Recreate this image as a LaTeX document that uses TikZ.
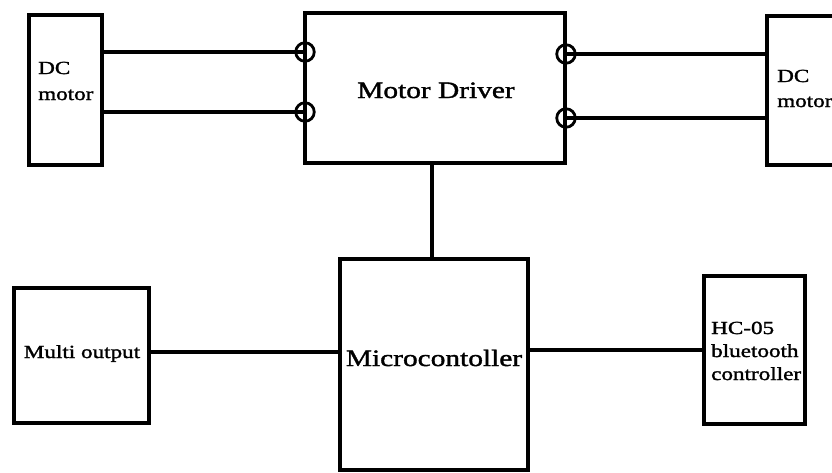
\documentclass[tikz,border=0pt]{standalone}
\usepackage{fontspec}
\setmainfont{Liberation Serif}[FakeStretch=1.25,FakeBold=1.5]
\begin{document}
\begin{tikzpicture}[x=1pt,y=-1pt,
  box/.style={draw=black,line width=4pt,rectangle},
  wire/.style={draw=black,line width=3.2pt},
  port/.style={draw=black,line width=2.8pt,circle,minimum size=18.5pt,inner sep=0pt},
  big/.style={font=\fontsize{23.5}{26}\selectfont},
  small/.style={font=\fontsize{18.5}{23}\selectfont,inner sep=0pt}]
\clip (0,0) rectangle (832,472);
\fill[white] (0,0) rectangle (832,472);
% boxes
\draw[box] (29,15) rectangle (102,165);
\draw[box] (305,13) rectangle (565,163);
\draw[box] (767,16) rectangle (860,165);
\draw[box] (340,259) rectangle (528,470);
\draw[box] (14,288) rectangle (149,423);
\draw[box] (704,276) rectangle (805,424);
% named anchor coordinates
\coordinate (dcLa) at (102,52);
\coordinate (dcLb) at (102,112);
\coordinate (mdLa) at (305,52);
\coordinate (mdLb) at (305,112);
\coordinate (mdRa) at (566,54);
\coordinate (mdRb) at (566,118);
\coordinate (dcRa) at (767,54);
\coordinate (dcRb) at (767,118);
\coordinate (mdB) at (432,163);
\coordinate (mcT) at (432,259);
\coordinate (mcL) at (340,352);
\coordinate (mcR) at (528,350);
\coordinate (moR) at (149,352);
\coordinate (hcL) at (704,350);
% ports
\node[port] (p1) at (mdLa) {};
\node[port] (p2) at (mdLb) {};
\node[port] (p3) at (mdRa) {};
\node[port] (p4) at (mdRb) {};
% wires
\draw[wire] (dcLa) -- (p1.center);
\draw[wire] (dcLb) -- (p2.center);
\draw[wire] (p3.center) -- (dcRa);
\draw[wire] (p4.center) -- (dcRb);
\draw[wire] (mdB) -- (mcT);
\draw[wire] (moR) -- (mcL);
\draw[wire] (mcR) -- (hcL);
% texts
\node[big,anchor=base] (tmd) at (436,98) {Motor Driver};
\node[big,anchor=base] (tmc) at (434,366) {Microcontoller};
\node[small,anchor=base] (tmo) at (82,358) {Multi output};
\node[small,anchor=base west] (tdl1) at (38,74) {DC};
\node[small,anchor=base west] (tdl2) at (38,100) {motor};
\node[small,anchor=base west] (tdr1) at (777,82) {DC};
\node[small,anchor=base west] (tdr2) at (777,107) {motor};
\node[small,anchor=base west] (th1) at (711,334) {HC-05};
\node[small,anchor=base west] (th2) at (711,357) {bluetooth};
\node[small,anchor=base west] (th3) at (711,380) {controller};
\end{tikzpicture}
\end{document}
